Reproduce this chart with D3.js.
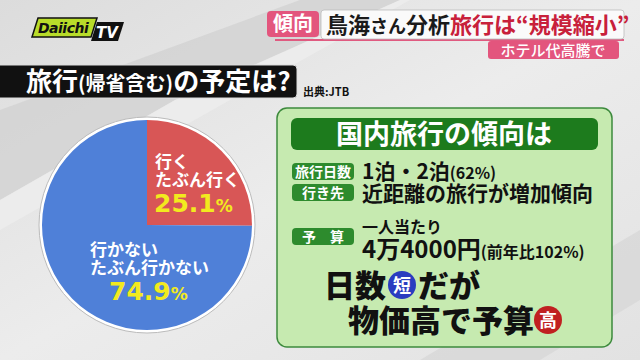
<!DOCTYPE html>
<html><head><meta charset="utf-8">
<script src="https://cdn.jsdelivr.net/npm/d3@7"></script>
<style>
html,body{margin:0;padding:0;background:#e8e8e8;}
svg{display:block;font-family:"Noto Sans CJK JP","Noto Sans",sans-serif;}
</style></head><body>
<svg id="c" width="640" height="360"></svg>
<script>
const categories = ["行く\nたぶん行く", "行かない\nたぶん行かない"];
const values = [25.1, 74.9];
const valueLabels = ["25.1", "74.9"];
const pieColors = ["#d85656", "#4f80d8"];

const svg = d3.select("#c");
const defs = svg.append("defs");
const bg = defs.append("linearGradient").attr("id","bg").attr("x1",0).attr("y1",0).attr("x2",1).attr("y2",1);
bg.append("stop").attr("offset","0").attr("stop-color","#dcdcdc");
bg.append("stop").attr("offset","0.5").attr("stop-color","#ececec");
bg.append("stop").attr("offset","1").attr("stop-color","#e2e2e2");
svg.append("rect").attr("width",640).attr("height",360).attr("fill","url(#bg)");
// diagonal bands
svg.append("path").attr("d","M0,110 L0,200 L175,100 L400,0 L300,0 Z").attr("fill","#d2d2d2").attr("opacity",0.8);
svg.append("path").attr("d","M0,200 L0,230 L230,100 L410,0 L400,0 L175,100 Z").attr("fill","#f0f0f0").attr("opacity",0.6);
svg.append("path").attr("d","M420,360 L640,230 L640,300 L540,360 Z").attr("fill","#d6d6d6").attr("opacity",0.7);

// Logo
const logo = svg.append("g");
logo.append("path").attr("d","M38,18 L97,18 L91,37 L32,37 Z").attr("fill","#b8dc2a").attr("stroke","#111").attr("stroke-width",1.5);
logo.append("text").attr("x",38).attr("y",33).attr("font-size",14).attr("font-weight",900).attr("font-style","italic").attr("fill","#111").attr("font-family","'DejaVu Sans',sans-serif").attr("letter-spacing",-0.5).text("Daiichi");
logo.append("path").attr("d","M97,22 L124,22 L118,41 L91,41 Z").attr("fill","#111");
logo.append("text").attr("x",96).attr("y",38).attr("font-size",15).attr("font-weight",900).attr("font-style","italic").attr("fill","#fff").attr("font-family","'DejaVu Sans',sans-serif").text("TV");

// Header tags
svg.append("line").attr("x1",275).attr("x2",624).attr("y1",40).attr("y2",40).attr("stroke","#e05a80").attr("stroke-width",2);
svg.append("rect").attr("x",267).attr("y",11).attr("width",52).attr("height",26).attr("rx",4).attr("fill","#e3557d");
svg.append("text").attr("x",293).attr("y",31).attr("text-anchor","middle").attr("font-size",20).attr("font-weight",700).attr("fill","#fff").text("傾向");
svg.append("rect").attr("x",321).attr("y",10).attr("width",303).attr("height",29).attr("rx",3).attr("fill","#fafafa").attr("stroke","#bbb").attr("stroke-width",0.8);
const ht = svg.append("text").attr("x",326).attr("y",33).attr("font-size",22).attr("font-weight",700);
ht.append("tspan").attr("fill","#1a1a1a").text("鳥海");
ht.append("tspan").attr("fill","#1a1a1a").attr("font-size",18).text("さん");
ht.append("tspan").attr("fill","#1a1a1a").text("分析");
ht.append("tspan").attr("fill","#c8203a").text("旅行は“規模縮小”");
svg.append("rect").attr("x",488).attr("y",41).attr("width",131).attr("height",18).attr("rx",3).attr("fill","#e3557d");
svg.append("text").attr("x",553).attr("y",56).attr("text-anchor","middle").attr("font-size",15).attr("font-weight",500).attr("fill","#fff").text("ホテル代高騰で");

// Title bar
svg.append("rect").attr("x",-10).attr("y",65).attr("width",307).attr("height",33).attr("rx",4).attr("fill","#111").attr("stroke","#ddd").attr("stroke-width",1);
const tt = svg.append("text").attr("x",26).attr("y",91).attr("font-size",26).attr("font-weight",700).attr("fill","#fff");
tt.append("tspan").text("旅行");
tt.append("tspan").attr("font-size",20).text("(帰省含む)");
tt.append("tspan").text("の予定は?");
svg.append("text").attr("x",303).attr("y",96).attr("font-size",11).attr("font-weight",700).attr("fill","#111").text("出典:JTB");

// Pie
const cx = 147, cy = 225, r = 105;
const pie = d3.pie().sort(null).value(d => d)(values);
const arc = d3.arc().innerRadius(0).outerRadius(r);
const pg = svg.append("g").attr("transform",`translate(${cx},${cy})`);
pg.append("circle").attr("r",r+3).attr("fill","#fff").attr("stroke","#bbb").attr("stroke-width",1);
pg.selectAll("path.s").data(pie).join("path").attr("class","s").attr("d",arc).attr("fill",(d,i)=>pieColors[i]);

const labelPos = [{x:155,y:[168,186],vy:212,vx:154},{x:90,y:[256,274],vy:300,vx:109}];
pie.forEach((d,i)=>{
  const lines = categories[i].split("\n");
  lines.forEach((l,j)=>{
    svg.append("text").attr("x",labelPos[i].x).attr("y",labelPos[i].y[j]).attr("font-size",17).attr("font-weight",700).attr("fill","#fff").text(l);
  });
  const vt = svg.append("text").attr("x",labelPos[i].vx).attr("y",labelPos[i].vy).attr("font-weight",900).attr("fill","#f2ea1e").attr("font-family","'DejaVu Sans',sans-serif");
  vt.append("tspan").attr("font-size",25).text(valueLabels[i]);
  vt.append("tspan").attr("font-size",17).text("%");
});

// Green panel
svg.append("rect").attr("x",277).attr("y",108).attr("width",335).attr("height",239).attr("rx",10).attr("fill","#c6eab0").attr("stroke","#3d8a3d").attr("stroke-width",1.5);
svg.append("rect").attr("x",291).attr("y",118).attr("width",307).attr("height",32).attr("rx",6).attr("fill","#1d7b1d");
svg.append("text").attr("x",444).attr("y",144).attr("text-anchor","middle").attr("font-size",27).attr("font-weight",700).attr("fill","#fff").text("国内旅行の傾向は");

const tags = [{t:"旅行日数",y:163},{t:"行き先",y:184},{t:"予　算",y:228}];
tags.forEach(g=>{
  svg.append("rect").attr("x",292).attr("y",g.y).attr("width",62).attr("height",17).attr("rx",4).attr("fill","#2d8b2d");
  svg.append("text").attr("x",323).attr("y",g.y+14).attr("text-anchor","middle").attr("font-size",14).attr("font-weight",700).attr("fill","#fff").text(g.t);
});
const t1 = svg.append("text").attr("x",362).attr("y",179).attr("font-weight",700).attr("fill","#111");
t1.append("tspan").attr("font-size",21).text("1泊・2泊");
t1.append("tspan").attr("font-size",16).text("(62%)");
svg.append("text").attr("x",362).attr("y",201).attr("font-size",21).attr("font-weight",700).attr("fill","#111").attr("textLength",231).text("近距離の旅行が増加傾向");
svg.append("text").attr("x",362).attr("y",233).attr("font-size",16).attr("font-weight",700).attr("fill","#111").text("一人当たり");
const t3 = svg.append("text").attr("x",362).attr("y",258).attr("font-weight",700).attr("fill","#111");
t3.append("tspan").attr("font-size",24).text("4万4000円");
t3.append("tspan").attr("font-size",16).text("(前年比102%)");

svg.append("text").attr("x",324).attr("y",297).attr("font-size",31).attr("font-weight",900).attr("fill","#111").text("日数");
svg.append("circle").attr("cx",402).attr("cy",285).attr("r",14).attr("fill","#2a3cc0");
svg.append("text").attr("x",402).attr("y",292).attr("text-anchor","middle").attr("font-size",18).attr("font-weight",700).attr("fill","#fff").text("短");
svg.append("text").attr("x",418).attr("y",297).attr("font-size",31).attr("font-weight",900).attr("fill","#111").text("だが");
svg.append("text").attr("x",348).attr("y",332).attr("font-size",31).attr("font-weight",900).attr("fill","#111").text("物価高で予算");
svg.append("circle").attr("cx",548).attr("cy",320).attr("r",14).attr("fill","#c02020");
svg.append("text").attr("x",548).attr("y",327).attr("text-anchor","middle").attr("font-size",18).attr("font-weight",700).attr("fill","#fff").text("高");
</script>
</body></html>
